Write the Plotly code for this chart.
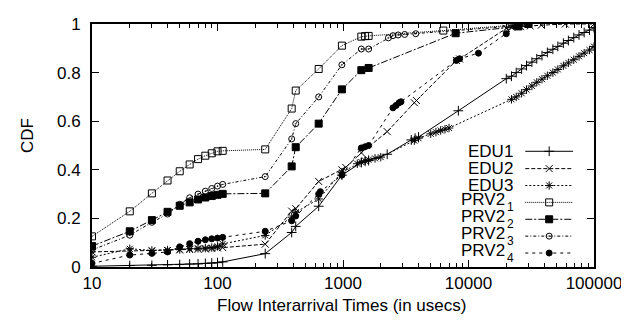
import plotly.graph_objects as go

# ---------------- data ----------------
edu1_x = [10, 20, 30, 40, 50, 60, 70, 80, 90, 100, 110, 240, 390, 420, 640, 980,
          1400, 1500, 1600, 2250, 3500, 3750, 4000, 8300,
          20000, 22000, 24000, 26500, 29000, 32000, 35000, 38500, 42500, 47000,
          51500, 57000, 62500, 69000, 76000, 83500, 92000, 100000]
edu1_y = [0.003, 0.006, 0.007, 0.009, 0.010, 0.012, 0.013, 0.015, 0.016, 0.018, 0.021,
          0.055, 0.142, 0.167, 0.25, 0.378,
          0.43, 0.435, 0.438, 0.464, 0.523, 0.53, 0.535, 0.643,
          0.775, 0.785, 0.80, 0.815, 0.829, 0.843, 0.857, 0.87, 0.883, 0.896,
          0.908, 0.921, 0.932, 0.944, 0.955, 0.965, 0.975, 0.985]

edu2_x = [10, 20, 30, 40, 50, 60, 70, 80, 90, 100, 110, 240, 390, 420, 640, 980,
          1050, 1400, 2250, 3700, 3850, 8000, 8500, 20000, 22000, 26000, 31000,
          38000, 59000, 100000]
edu2_y = [0.062, 0.066, 0.066, 0.068, 0.07, 0.072, 0.073, 0.074, 0.076, 0.078, 0.08,
          0.094, 0.23, 0.24, 0.352, 0.40,
          0.41, 0.47, 0.557, 0.676, 0.685, 0.85, 0.856, 0.982, 0.987, 0.99, 0.992,
          0.995, 1.0, 1.0]

edu3_x = [10, 20, 30, 40, 50, 60, 70, 80, 90, 100, 110, 240, 390, 420, 640, 980,
          1300, 1400, 1500, 1600, 1800, 2000, 3700, 4000, 5000, 5500, 6000, 6500, 7000,
          22000, 24000, 26500, 29000, 32000, 35000, 38500, 42500, 47000, 51500,
          57000, 62500, 69000, 76000, 83500, 92000, 100000]
edu3_y = [0.04, 0.075, 0.068, 0.07, 0.072, 0.075, 0.077, 0.078, 0.08, 0.085, 0.095,
          0.13, 0.205, 0.225, 0.28, 0.39,
          0.425, 0.432, 0.437, 0.441, 0.447, 0.452, 0.52, 0.53, 0.548, 0.555, 0.562, 0.567, 0.572,
          0.69, 0.70, 0.715, 0.73, 0.745, 0.76, 0.773, 0.787, 0.80, 0.813,
          0.828, 0.84, 0.853, 0.867, 0.88, 0.893, 0.907]

prv1_x = [10, 20, 30, 40, 50, 60, 70, 80, 90, 100, 110, 240, 390, 420, 640, 980,
          1400, 1500, 1600, 6300, 24000, 30000]
prv1_y = [0.126, 0.229, 0.303, 0.356, 0.394, 0.422, 0.444, 0.458, 0.468, 0.476, 0.478,
          0.484, 0.652, 0.726, 0.815, 0.911,
          0.948, 0.95, 0.951, 0.973, 0.995, 1.0]

prv2_x = [10, 20, 30, 40, 50, 60, 70, 80, 90, 100, 110, 240, 390, 420, 640, 980,
          1400, 1600, 7900, 25000, 30000]
prv2_y = [0.086, 0.147, 0.193, 0.227, 0.252, 0.266, 0.278, 0.286, 0.292, 0.297, 0.301,
          0.303, 0.414, 0.493, 0.59, 0.731,
          0.81, 0.819, 0.962, 0.99, 1.0]

prv3_x = [10, 20, 30, 40, 50, 60, 70, 80, 90, 100, 110, 240, 390, 420, 640, 980,
          1400, 1600, 2300, 2500, 2750, 3100, 3800, 21000, 30000]
prv3_y = [0.07, 0.131, 0.184, 0.218, 0.258, 0.285, 0.30, 0.312, 0.323, 0.333, 0.34,
          0.372, 0.527, 0.59, 0.70, 0.832,
          0.897, 0.897, 0.943, 0.952, 0.955, 0.957, 0.96, 0.99, 1.0]

prv4_x = [10, 20, 30, 40, 50, 60, 70, 80, 90, 100, 110, 240, 390, 420, 640, 660, 980,
          1400, 1500, 1600, 2500, 2650, 2800, 2900, 8000, 8500, 12000, 20000, 24000, 30000]
prv4_y = [0.015, 0.049, 0.056, 0.062, 0.083, 0.096, 0.106, 0.112, 0.116, 0.119, 0.122,
          0.147, 0.19, 0.21, 0.30, 0.31, 0.378,
          0.49, 0.495, 0.50, 0.655, 0.665, 0.676, 0.68, 0.85, 0.857, 0.88, 0.96, 0.99, 1.0]

# legend labels: main text and subscript
series_main = ["EDU1", "EDU2", "EDU3", "PRV2", "PRV2", "PRV2", "PRV2"]
series_sub = ["", "", "", "1", "2", "3", "4"]

x_tick_vals = [10, 100, 1000, 10000, 100000]
x_tick_text = ["10", "100", "1000", "10000", "100000"]
y_tick_vals = [0, 0.2, 0.4, 0.6, 0.8, 1.0]
y_tick_text = ["0", "0.2", "0.4", "0.6", "0.8", "1"]

x_title = "Flow Interarrival Times (in usecs)"
y_title = "CDF"

# ---------------- styles ----------------
FONT = "Liberation Sans, Arial, sans-serif"
FS = 17
styles = [
    dict(dash="solid", symbol="cross-thin-open", size=7),
    dict(dash="4px,2px", symbol="x-thin-open", size=7),
    dict(dash="2px,2px", symbol="asterisk-open", size=7),
    dict(dash="1px,1px", symbol="square-open", size=7),
    dict(dash="7px,2px,2px,2px", symbol="square", size=7),
    dict(dash="3px,2px,1px,2px", symbol="circle-open-dot", size=6),
    dict(dash="3px,4px", symbol="circle", size=6),
]
data = [(edu1_x, edu1_y), (edu2_x, edu2_y), (edu3_x, edu3_y), (prv1_x, prv1_y),
        (prv2_x, prv2_y), (prv3_x, prv3_y), (prv4_x, prv4_y)]

fig = go.Figure()
for (xs, ys), st, mn, sb in zip(data, styles, series_main, series_sub):
    fig.add_trace(go.Scatter(
        x=xs, y=ys, mode="lines+markers", name=mn + sb, showlegend=False,
        line=dict(color="black", width=1, dash=st["dash"]),
        marker=dict(symbol=st["symbol"], size=st["size"], color="black",
                    line=dict(color="black", width=1)),
        xaxis="x", yaxis="y"))

# ---------------- custom legend (text left of sample) ----------------
# page pixel positions of the plot frame (page body has an 8px margin)
OFF = 8
L, R, T, B = 92.0, 596.0, 15.0, 267.0
def px_x(p):
    return (p - L) / (R - L)
def px_y(p):
    return (B - p) / (B - T)

row_px = [147, 165, 182.5, 200, 217.5, 235, 252.5]
for i, (st, mn, sb) in enumerate(zip(styles, series_main, series_sub)):
    yy = px_y(row_px[i])
    fig.add_trace(go.Scatter(
        x=[px_x(527), px_x(575)], y=[yy, yy], mode="lines", showlegend=False,
        line=dict(color="black", width=1, dash=st["dash"]), xaxis="x2", yaxis="y2",
        hoverinfo="skip"))
    fig.add_trace(go.Scatter(
        x=[px_x(551)], y=[yy], mode="markers", showlegend=False,
        marker=dict(symbol=st["symbol"], size=st["size"], color="black",
                    line=dict(color="black", width=1)),
        xaxis="x2", yaxis="y2", hoverinfo="skip"))
    if sb:
        fig.add_annotation(x=px_x(508), y=px_y(row_px[i] - 3), xref="paper", yref="paper",
                           text=mn, showarrow=False, xanchor="right", yanchor="middle",
                           borderpad=0,
                           font=dict(family=FONT, size=FS, color="black"))
        fig.add_annotation(x=px_x(508), y=px_y(row_px[i] + 5), xref="paper", yref="paper",
                           text=sb, showarrow=False, xanchor="left", yanchor="middle",
                           borderpad=0,
                           font=dict(family=FONT, size=12, color="black"))
    else:
        fig.add_annotation(x=px_x(516), y=yy, xref="paper", yref="paper",
                           text=mn, showarrow=False, xanchor="right", yanchor="middle",
                           borderpad=0,
                           font=dict(family=FONT, size=FS, color="black"))

# minor tick positions on the log axis
minor_vals = []
for dec in [10, 100, 1000, 10000]:
    for k in range(2, 10):
        minor_vals.append(dec * k)

W, H = 629 - OFF, 320 - OFF
fig.update_layout(
    width=W, height=H,
    margin=dict(l=int(L - OFF), r=int(629 - R), t=int(T - OFF), b=int(320 - B)),
    paper_bgcolor="white", plot_bgcolor="white",
    font=dict(family=FONT, size=FS, color="black"),
    xaxis=dict(type="log", range=[1, 5], tickvals=x_tick_vals, ticktext=x_tick_text,
               ticks="inside", ticklen=7, tickwidth=1, tickcolor="black",
               showline=True, linewidth=2, linecolor="black", mirror="ticks",
               showgrid=False, zeroline=False, ticklabeloverflow="allow",
               minor=dict(ticks="inside", ticklen=4, tickwidth=1, tickcolor="black",
                          tickvals=minor_vals, showgrid=False),
               tickfont=dict(family=FONT, size=FS)),
    yaxis=dict(range=[0, 1], tickvals=y_tick_vals, ticktext=y_tick_text,
               ticks="inside", ticklen=7, tickwidth=1, tickcolor="black",
               showline=True, linewidth=2, linecolor="black", mirror="ticks",
               showgrid=False, zeroline=False, ticklabelstandoff=6,
               ticklabeloverflow="allow",
               tickfont=dict(family=FONT, size=FS)),
    xaxis2=dict(range=[0, 1], overlaying="x", visible=False, domain=[0, 1]),
    yaxis2=dict(range=[0, 1], overlaying="y", visible=False),
    showlegend=False,
)

fig.add_annotation(x=px_x(342), y=px_y(307), xref="paper", yref="paper",
                   text=x_title, showarrow=False, xanchor="center", yanchor="middle",
                   font=dict(family=FONT, size=FS, color="black"))
fig.add_annotation(x=px_x(28), y=px_y(131), xref="paper", yref="paper",
                   text=y_title, showarrow=False, textangle=-90,
                   xanchor="center", yanchor="middle",
                   font=dict(family=FONT, size=FS, color="black"))

fig.write_html("out.html")
